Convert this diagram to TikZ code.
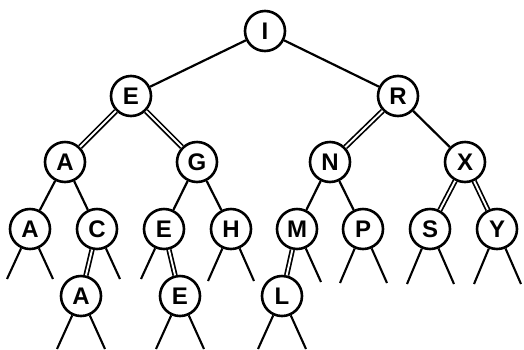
\documentclass[tikz,border=0pt]{standalone}
\usepackage{fontspec}
\setmainfont{Liberation Sans}
\begin{document}
\begin{tikzpicture}[x=1pt,y=-1pt,
  key/.style={circle,draw,line width=2.6pt,minimum size=40pt,inner sep=0pt,font=\fontsize{24}{24}\selectfont\bfseries},
  blk/.style={line width=2.2pt},
  red/.style={line width=1.7pt,double=white,double distance=1.9pt},
  stub/.style={line width=2.1pt}]
\useasboundingbox (0,0) rectangle (524,349);
% nodes
\node[key] (I)  at (265,31) {I};
\node[key] (E1) at (131,96) {E};
\node[key] (R)  at (398,96) {R};
\node[key] (A2) at (65,162) {A};
\node[key] (G)  at (197,162) {G};
\node[key] (N)  at (330,162) {N};
\node[key] (X)  at (465,162) {X};
\node[key] (A3) at (30,229) {A};
\node[key] (C)  at (97,229) {C};
\node[key] (E3) at (164,229) {E};
\node[key] (H)  at (231,229) {H};
\node[key] (M)  at (297,229) {M};
\node[key] (P)  at (363,229) {P};
\node[key] (S)  at (430,229) {S};
\node[key] (Y)  at (497,229) {Y};
\node[key] (A4) at (81,296) {A};
\node[key] (E4) at (180,296) {E};
\node[key] (L)  at (282,296) {L};
% links
\draw[blk] (I) -- (E1);
\draw[blk] (I) -- (R);
\draw[red] (E1) -- (A2);
\draw[red] (E1) -- (G);
\draw[red] (R) -- (N);
\draw[blk] (R) -- (X);
\draw[blk] (A2) -- (A3);
\draw[blk] (A2) -- (C);
\draw[blk] (G) -- (E3);
\draw[blk] (G) -- (H);
\draw[blk] (N) -- (M);
\draw[blk] (N) -- (P);
\draw[red] (X) -- (S);
\draw[red] (X) -- (Y);
\draw[red] (C) -- (A4);
\draw[red] (E3) -- (E4);
\draw[red] (M) -- (L);
% null-link stubs
\coordinate (A3l) at (7,279);   \coordinate (A3r) at (53,279);
\coordinate (Cr)  at (120,279);
\coordinate (E3l) at (141,279);
\coordinate (Hl)  at (208,281); \coordinate (Hr)  at (254,281);
\coordinate (Mr)  at (321,282);
\coordinate (Pl)  at (340,283); \coordinate (Pr)  at (387,283);
\coordinate (Sl)  at (407,284); \coordinate (Sr)  at (454,284);
\coordinate (Yl)  at (474,284); \coordinate (Yr)  at (521,284);
\coordinate (A4l) at (57,349);  \coordinate (A4r) at (105,349);
\coordinate (E4l) at (156,349); \coordinate (E4r) at (204,349);
\coordinate (Ll)  at (258,349); \coordinate (Lr)  at (306,349);
\foreach \n/\s in {A3/A3l,A3/A3r,C/Cr,E3/E3l,H/Hl,H/Hr,M/Mr,P/Pl,P/Pr,S/Sl,S/Sr,Y/Yl,Y/Yr,A4/A4l,A4/A4r,E4/E4l,E4/E4r,L/Ll,L/Lr}
  \draw[stub] (\n) -- (\s);
\end{tikzpicture}
\end{document}
